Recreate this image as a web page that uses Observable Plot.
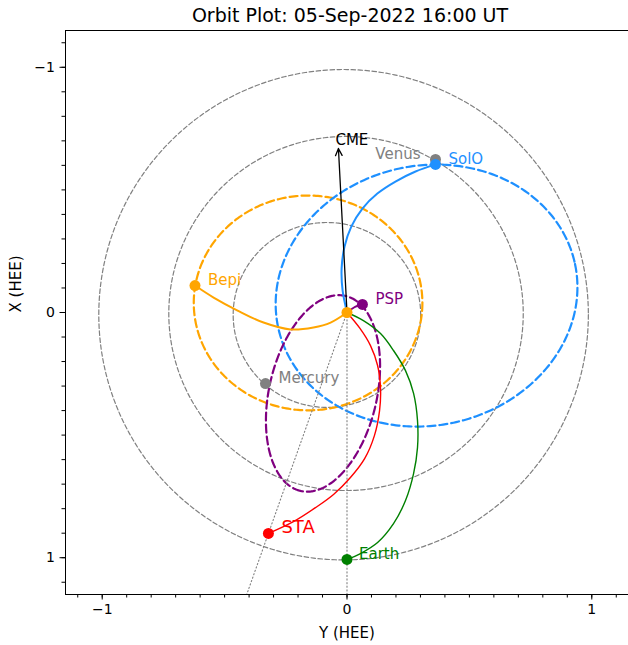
<!DOCTYPE html>
<html>
<head>
<meta charset="utf-8">
<script src="https://cdn.jsdelivr.net/npm/d3@7"></script>
<script src="https://cdn.jsdelivr.net/npm/@observablehq/plot@0.6"></script>
<style>
  html, body { margin: 0; padding: 0; background: #fff; }
  body { font-family: "DejaVu Sans", sans-serif; width: 628px; height: 645px; overflow: hidden; position: relative; }
  #title { position: absolute; left: 0; top: 0; width: 628px; height: 28px; }
  #title span { position: absolute; left: 350px; top: 4px; transform: translateX(-50%); font-size: 19px; white-space: nowrap; color: #000; }
  #chart { position: absolute; left: 0; top: 28px; }
</style>
</head>
<body>
<div id="title"><span>Orbit Plot: 05-Sep-2022 16:00 UT</span></div>
<div id="chart"></div>
<script>
// ---------------- DATA (HEE coordinates in AU) ----------------
// Orbits: centre (Y, X), semi-axes a, b and tilt of the a-axis (degrees, from +Y toward +X)
const orbitNames = ["Earth", "Venus", "Mercury", "Bepi", "SolO", "PSP"];
const orbitCenterY = [-0.014, -0.004, -0.082, -0.159, 0.325, -0.098];
const orbitCenterX = [0.009, 0.004, 0.010, -0.039, -0.069, 0.330];
const orbitA = [1.000, 0.724, 0.383, 0.467, 0.620, 0.408];
const orbitB = [1.000, 0.722, 0.377, 0.438, 0.530, 0.220];
const orbitTilt = [0, 0, 0, 0, -12, 103];

// Body positions
const bodyNames = ["Mercury", "Venus", "Earth", "SolO", "Bepi", "PSP", "STA"];
const bodyY = [-0.333, 0.3615, 0.000, 0.3615, -0.621, 0.063, -0.321];
const bodyX = [0.290, -0.624, 1.007, -0.604, -0.110, -0.033, 0.901];

// Sun
const sunY = [0];
const sunX = [0];

// Magnetic connection (Parker spiral) lines, [Y, X] pairs from the Sun outward
const spiralSolO = [[0,0],[-0.018,-0.090],[-0.022,-0.179],[-0.010,-0.269],[0.018,-0.351],[0.063,-0.424],[0.124,-0.485],[0.198,-0.534],[0.280,-0.575],[0.3615,-0.604]];
const spiralBepi = [[0,0],[-0.067,0.041],[-0.137,0.061],[-0.231,0.069],[-0.341,0.041],[-0.447,-0.008],[-0.545,-0.061],[-0.621,-0.110]];
const spiralSTA = [[0,0],[0.053,0.065],[0.096,0.135],[0.125,0.216],[0.137,0.310],[0.133,0.400],[0.112,0.502],[0.072,0.596],[0.014,0.673],[-0.055,0.742],[-0.129,0.796],[-0.219,0.853],[-0.321,0.901]];
const spiralEarth = [[0,0],[0.067,0.033],[0.137,0.086],[0.190,0.155],[0.239,0.237],[0.272,0.330],[0.288,0.440],[0.288,0.551],[0.272,0.657],[0.239,0.767],[0.190,0.861],[0.125,0.938],[0.055,0.983],[0,1.007]];
const spiralPSP = [[0,0],[0.035,-0.024],[0.063,-0.033]];

// CME direction arrow (from the Sun to the tip)
const cmeY = [0, -0.035];
const cmeX = [0, -0.669];
const cmeLabel = "CME";

// Axis ticks and labels
const majorTicks = [-1, 0, 1];
const minorTicks = d3.range(-11, 12).map(i => i / 10);
const xAxisLabel = "Y (HEE)";
const yAxisLabel = "X (HEE)";

// ---------------- STYLES ----------------
const colors = {
  Earth: "green", Venus: "gray", Mercury: "gray", Bepi: "orange",
  SolO: "dodgerblue", PSP: "purple", STA: "red", Sun: "orange"
};
const orbitStyle = {
  Earth:   {c: "gray", w: 1.2, dash: "4.5,2.5"},
  Venus:   {c: "gray", w: 1.2, dash: "4.5,2.5"},
  Mercury: {c: "gray", w: 1.2, dash: "4.5,2.5"},
  Bepi:    {c: "orange", w: 2.2, dash: "8,4"},
  SolO:    {c: "dodgerblue", w: 2.2, dash: "8,4"},
  PSP:     {c: "purple", w: 2.2, dash: "8,4"}
};
const labelStyle = {
  Mercury: {dx: 13, dy: -5, anchor: "start", size: 15},
  Venus:   {dx: -15, dy: -5, anchor: "end", size: 15},
  Earth:   {dx: 12, dy: -5, anchor: "start", size: 15},
  SolO:    {dx: 13, dy: -5, anchor: "start", size: 15},
  Bepi:    {dx: 13, dy: -5, anchor: "start", size: 15},
  PSP:     {dx: 13, dy: -5, anchor: "start", size: 15},
  STA:     {dx: 13, dy: -6, anchor: "start", size: 18}
};

// ---------------- BUILD ----------------
function ellipse(name, cy, cx, a, b, tiltDeg) {
  const th = tiltDeg * Math.PI / 180, n = 360;
  return d3.range(n + 1).map(i => {
    const t = 2 * Math.PI * i / n;
    const u = a * Math.cos(t), v = b * Math.sin(t);
    return {name, Y: cy + u * Math.cos(th) - v * Math.sin(th), X: cx + u * Math.sin(th) + v * Math.cos(th)};
  });
}
const orbits = orbitNames.map((n, i) => ellipse(n, orbitCenterY[i], orbitCenterX[i], orbitA[i], orbitB[i], orbitTilt[i]));
const bodies = bodyNames.map((n, i) => ({name: n, Y: bodyY[i], X: bodyX[i]}));
const byName = Object.fromEntries(bodies.map(b => [b.name, b]));
const spirals = [
  ["SolO", spiralSolO, 2.0], ["Bepi", spiralBepi, 2.0], ["STA", spiralSTA, 1.4],
  ["Earth", spiralEarth, 1.4], ["PSP", spiralPSP, 2.0]
];
// Sun-Earth and Sun-STA lines, extended past the bodies (clipped by the frame)
const sightLines = ["Earth", "STA"].flatMap(n => [
  {name: n, Y: sunY[0], X: sunX[0]},
  {name: n, Y: byName[n].Y * 1.5, X: byName[n].X * 1.5}
]);
const fmt = d => d < 0 ? "\u2212" + Math.abs(d) : String(d);

const marks = [];
orbits.forEach((pts, i) => {
  const s = orbitStyle[orbitNames[i]];
  marks.push(Plot.line(pts, {x: "Y", y: "X", stroke: s.c, strokeWidth: s.w, strokeDasharray: s.dash, clip: true}));
});
marks.push(Plot.line(sightLines, {x: "Y", y: "X", z: "name", stroke: "gray", strokeWidth: 1.1, strokeDasharray: "1.2,2.4", clip: true}));
spirals.forEach(([n, pts, w]) => {
  marks.push(Plot.line(pts, {x: d => d[0], y: d => d[1], stroke: colors[n], strokeWidth: w, curve: "catmull-rom"}));
});
marks.push(Plot.arrow([0], {
  x1: () => cmeY[0], y1: () => cmeX[0], x2: () => cmeY[1], y2: () => cmeX[1],
  stroke: "black", strokeWidth: 1.3, headLength: 9, headAngle: 50, bend: false
}));
marks.push(Plot.text([cmeLabel], {x: () => cmeY[1], y: () => cmeX[1], text: d => d, textAnchor: "start", dx: -3, dy: -8, fontSize: 15, fill: "black"}));
// Dots: Venus before SolO so SolO sits on top
["Mercury", "Venus", "Earth", "SolO", "Bepi", "PSP", "STA"].forEach(n => {
  marks.push(Plot.dot([byName[n]], {x: "Y", y: "X", r: 5.5, fill: colors[n], stroke: null}));
});
marks.push(Plot.dot(sunY.map((y, i) => ({Y: y, X: sunX[i]})), {x: "Y", y: "X", r: 5.5, fill: colors.Sun, stroke: null}));
bodies.forEach(b => {
  const s = labelStyle[b.name];
  marks.push(Plot.text([b], {x: "Y", y: "X", text: "name", fill: colors[b.name], textAnchor: s.anchor, dx: s.dx, dy: s.dy, fontSize: s.size}));
});
marks.push(Plot.frame({stroke: "black", strokeWidth: 1}));
marks.push(Plot.axisX(minorTicks, {anchor: "bottom", tickSize: 3.5, tickFormat: () => "", label: null}));
marks.push(Plot.axisX(majorTicks, {anchor: "bottom", tickSize: 5.5, tickPadding: 4, tickFormat: fmt, fontSize: 14, label: null}));
marks.push(Plot.axisY(minorTicks, {anchor: "left", tickSize: 3.5, tickFormat: () => "", label: null}));
marks.push(Plot.axisY(majorTicks, {anchor: "left", tickSize: 5.5, tickPadding: 5, tickFormat: fmt, fontSize: 14, label: null}));
marks.push(Plot.text([xAxisLabel], {frameAnchor: "bottom", text: d => d, dy: 43, fontSize: 15, fill: "black"}));
marks.push(Plot.text([yAxisLabel], {frameAnchor: "left", text: d => d, dx: -49, rotate: -90, fontSize: 15, fill: "black"}));

const chart = Plot.plot({
  width: 628, height: 617,
  marginLeft: 65, marginRight: 0, marginTop: 2, marginBottom: 51,
  x: {domain: [-1.15, 1.15], label: null},
  y: {domain: [-1.15, 1.15], reverse: true, label: null},
  style: {fontFamily: "'DejaVu Sans', sans-serif", fontSize: "15px", background: "white", color: "black", overflow: "visible"},
  marks
});
document.getElementById("chart").appendChild(chart);
</script>
</body>
</html>
